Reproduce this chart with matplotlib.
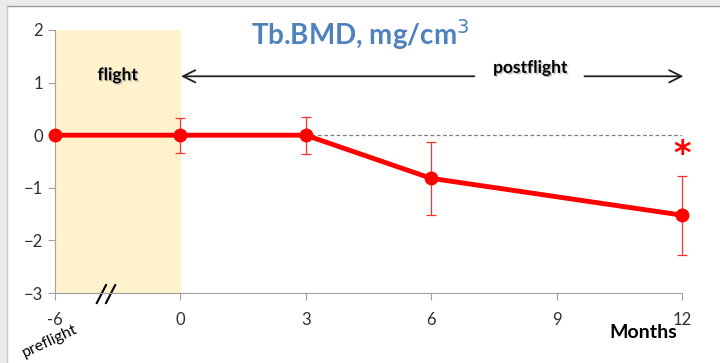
import matplotlib
matplotlib.use("Agg")
import matplotlib.pyplot as plt
import matplotlib.patheffects as pe
from matplotlib.patches import Rectangle
from matplotlib.lines import Line2D

# data
month_labels = ["-6", "0", "3", "6", "9", "12"]
tick_pos = [-3, 0, 3, 6, 9, 12]          # -6 drawn at -3 (broken axis)
point_pos = [-3, 0, 3, 6, 12]
bmd_change = [0.0, 0.0, 0.0, -0.82, -1.52]
bmd_err = [0.0, 0.33, 0.35, 0.70, 0.75]
y_ticks = [2, 1, 0, -1, -2, -3]

RED = "#ff0000"
GRAY_TXT = "#303030"

plt.rcParams["font.family"] = ["Lato", "DejaVu Sans"]
fig = plt.figure(figsize=(7.2, 3.63), dpi=100)
ax = fig.add_axes([55 / 720, 1 - 293 / 363, 627 / 720, 263 / 363])

# window-like frame
fig.patches.append(Rectangle((0, 1 - 6 / 363), 1, 6 / 363, transform=fig.transFigure,
                             color="#ebebeb", zorder=0))
fig.patches.append(Rectangle((0, 0), 7 / 720, 1, transform=fig.transFigure,
                             color="#ebebeb", zorder=0))
fig.lines.append(Line2D([7 / 720, 1], [1 - 6 / 363] * 2, transform=fig.transFigure,
                        color="#9a9a9a", lw=1))
fig.lines.append(Line2D([7 / 720] * 2, [0, 1 - 6 / 363], transform=fig.transFigure,
                        color="#c8c8c8", lw=1))

ax.axvspan(-3, 0, color="#fff2cc", zorder=0)
ax.axhline(0, color="#808080", lw=0.9, ls=(0, (3, 2)), zorder=1)

eb = ax.errorbar(point_pos, bmd_change, yerr=bmd_err, color=RED, lw=3.5,
                 marker="o", ms=9, elinewidth=0.9, capsize=3.5, capthick=0.9,
                 ecolor="#ff3030", zorder=3)
for art in eb.get_children():
    art.set_clip_on(False)

ax.set_xlim(-3, 12)
ax.set_ylim(-3, 2)
ax.set_xticks(tick_pos)
ax.set_xticklabels(month_labels)
ax.set_yticks(y_ticks)
ax.tick_params(colors="#a0a0a0", labelcolor=GRAY_TXT, labelsize=12, length=5)
ax.tick_params(axis="x", pad=9)
for s in ["top", "right"]:
    ax.spines[s].set_visible(False)
for s in ["left", "bottom"]:
    ax.spines[s].set_color("#a0a0a0")

# title
fig.text(0.5, 1 - 35 / 363, "Tb.BMD, mg/cm$^3$", color="#4f81bd", fontsize=20,
         fontweight="bold", ha="center", va="center")

shadow = [pe.SimplePatchShadow(offset=(1, -1), shadow_rgbFace="#999999", alpha=0.6), pe.Normal()]
ax.text(-1.5, 1.14, "flight", fontsize=12.5, fontweight="bold", ha="center", va="center",
        path_effects=shadow)
ax.text(8.37, 1.28, "postflight", fontsize=12.5, fontweight="bold", ha="center", va="center",
        path_effects=shadow)
ax.annotate("", xy=(-0.05, 1.12), xytext=(7.1, 1.12),
            arrowprops=dict(arrowstyle="->", color="#202020", lw=1.3, mutation_scale=22))
ax.annotate("", xy=(12.1, 1.12), xytext=(9.6, 1.12),
            arrowprops=dict(arrowstyle="->", color="#202020", lw=1.3, mutation_scale=22),
            annotation_clip=False)

ax.text(12, -0.36, "*", color=RED, fontsize=24, fontweight="bold", ha="center", va="center",
        family="DejaVu Sans")

# axis break marks
for x0 in (-2.0, -1.78):
    ax.add_line(Line2D([x0, x0 + 0.22], [-3.19, -2.85], color="black", lw=1.5,
                       clip_on=False))
fig.text(643 / 720, 1 - 333 / 363, "Months", fontsize=14, fontweight="bold",
         ha="center", va="center")
fig.text(50 / 720, 1 - 341 / 363, "preflight", fontsize=11.5, rotation=25,
         ha="center", va="center", color="black")

fig.savefig("out.png", dpi=100)
